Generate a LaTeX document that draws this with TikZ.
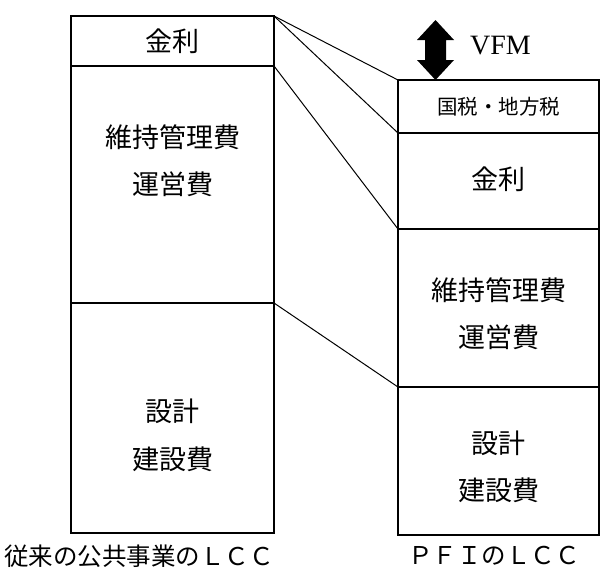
\documentclass[tikz,border=0pt]{standalone}
\usepackage{fontspec}
\setmainfont{Noto Sans CJK JP}
\newfontfamily\latinserif{Liberation Serif}
\tikzset{
  box/.style={draw=black, line width=2.6pt},
  divider/.style={draw=black, line width=1.3pt},
  link/.style={draw=black, line width=1pt},
  big/.style={font=\fontsize{27}{33}\selectfont, inner sep=0pt, align=center},
  small/.style={font=\fontsize{20.5}{24}\selectfont, inner sep=0pt},
  caption/.style={font=\fontsize{24.5}{30}\selectfont, inner sep=0pt},
}
\begin{document}
\begin{tikzpicture}[x=1pt, y=-1pt]
\useasboundingbox (0,0) rectangle (600,576);
% left box
\coordinate (LTL) at (71,16);
\coordinate (LTR) at (274,16);
\coordinate (LBR) at (274,533);
\coordinate (L1L) at (71,66);
\coordinate (L1R) at (274,66);
\coordinate (L2L) at (71,303);
\coordinate (L2R) at (274,303);
% right box
\coordinate (RTL) at (398,80);
\coordinate (RBR) at (599,535);
\coordinate (R1L) at (398,133);
\coordinate (R1R) at (599,133);
\coordinate (R2L) at (398,229);
\coordinate (R2R) at (599,229);
\coordinate (R3L) at (398,387);
\coordinate (R3R) at (599,387);

\draw[divider] (L1L) -- (L1R);
\draw[divider] (L2L) -- (L2R);
\draw[divider] (R1L) -- (R1R);
\draw[divider] (R2L) -- (R2R);
\draw[divider] (R3L) -- (R3R);
\draw[box] (LTL) rectangle (LBR);
\draw[box] (RTL) rectangle (RBR);

% connectors
\draw[link] (LTR) -- (RTL);
\draw[link] (LTR) -- (R1L);
\draw[link] (L1R) -- (R2L);
\draw[link] (L2R) -- (R3L);

% left texts
\node[big] (lkinri) at (172.5,41) {金利};
\node[big] (liji) at (172.5,137) {維持管理費};
\node[big] (lunei) at (172.5,184) {運営費};
\node[big] (lsekkei) at (172.5,411) {設計};
\node[big] (lkensetsu) at (172.5,459) {建設費};

% right texts
\node[small] (rtax) at (498.5,107) {国税・地方税};
\node[big] (rkinri) at (498.5,179) {金利};
\node[big] (rijii) at (498.5,290) {維持管理費};
\node[big] (runei) at (498.5,337) {運営費};
\node[big] (rsekkei) at (498.5,443) {設計};
\node[big] (rkensetsu) at (498.5,490) {建設費};

% VFM arrow
\fill[black] (435.5,20) -- (454,40) -- (446,40) -- (446,60) -- (454,60) -- (435.5,80)
  -- (417,60) -- (425,60) -- (425,40) -- (417,40) -- cycle;
\node[inner sep=0pt, anchor=west, font=\latinserif\fontsize{28}{32}\selectfont] (vfm) at (470,46) {VFM};

% captions
\node[caption] (capl) at (139,556) {従来の公共事業のＬＣＣ};
\node[caption] (capr) at (494,556) {ＰＦＩのＬＣＣ};
\end{tikzpicture}
\end{document}
